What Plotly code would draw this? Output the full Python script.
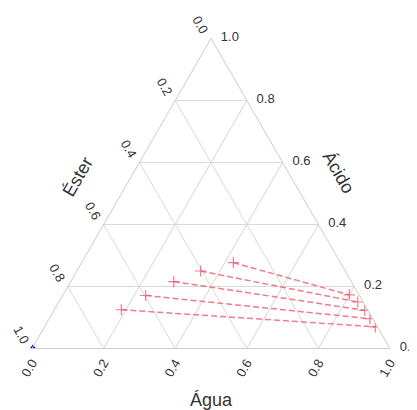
import plotly.graph_objects as go

# tie line ends (Ácido, Éster, Água) - ester-rich phase and water-rich phase
acido_ester_phase = [0.277, 0.250, 0.216, 0.171, 0.125]
ester_ester_phase = [0.299, 0.404, 0.496, 0.597, 0.688]
agua_ester_phase = [0.424, 0.346, 0.288, 0.232, 0.187]

acido_agua_phase = [0.173, 0.150, 0.123, 0.096, 0.070]
ester_agua_phase = [0.027, 0.015, 0.009, 0.008, 0.006]
agua_agua_phase = [0.800, 0.835, 0.868, 0.896, 0.924]

# pure ester point
acido_pure = [0.005]
ester_pure = [0.995]
agua_pure = [0.0]

tick_vals = [0.0, 0.2, 0.4, 0.6, 0.8, 1.0]
tick_text = ["1.0", "0.8", "0.6", "0.4", "0.2", "0.0"]

red = "rgba(235,80,100,0.75)"
grey = "#333333"
font = "Liberation Sans, Arial, sans-serif"

fig = go.Figure()
for i in range(len(acido_ester_phase)):
    fig.add_trace(go.Scatterternary(
        a=[acido_ester_phase[i], acido_agua_phase[i]],
        b=[ester_ester_phase[i], ester_agua_phase[i]],
        c=[agua_ester_phase[i], agua_agua_phase[i]],
        mode="lines+markers",
        line=dict(color=red, width=1.5, dash="6px,3px"),
        marker=dict(symbol="cross-thin", size=8, line=dict(color=red, width=1.2)),
        showlegend=False,
    ))

fig.add_trace(go.Scatterternary(
    a=acido_pure, b=ester_pure, c=agua_pure,
    mode="markers",
    marker=dict(symbol="triangle-up", size=5, color="blue"),
    showlegend=False,
    cliponaxis=False,
))

axis_common = dict(
    tickvals=tick_vals,
    showgrid=True,
    gridcolor="#d9d9d9",
    gridwidth=1,
    linecolor="#cccccc",
    linewidth=1,
    ticks="outside",
    ticklen=0,
    tickcolor="rgba(0,0,0,0)",
    tickfont=dict(family=font, size=13, color=grey),
    title=dict(text=""),
    min=0,
)

# small spaces push the labels off the edges (zero width space keeps them from being trimmed)
left_text = [t + "\u2008\u200b" for t in tick_text]
right_text = ["\u200b\u2007" + t for t in tick_text]

title_font = dict(family=font, size=18, color=grey)

fig.update_layout(
    width=417,
    height=410,
    margin=dict(l=24, r=35, t=30, b=69),
    paper_bgcolor="white",
    font=dict(family=font, color=grey),
    ternary=dict(
        bgcolor="white",
        sum=1,
        aaxis=dict(axis_common, tickangle=60, ticktext=left_text),
        baxis=dict(axis_common, tickangle=-60, ticktext=tick_text),
        caxis=dict(axis_common, tickangle=0, ticktext=right_text),
    ),
    annotations=[
        dict(text="Éster", x=0.128, y=0.553, xref="paper", yref="paper", showarrow=False,
             xanchor="center", yanchor="middle", textangle=-60, font=title_font),
        dict(text="Ácido", x=0.855, y=0.569, xref="paper", yref="paper", showarrow=False,
             xanchor="center", yanchor="middle", textangle=60, font=title_font),
        dict(text="Água", x=0.5, y=-0.165, xref="paper", yref="paper", showarrow=False,
             xanchor="center", yanchor="middle", font=title_font),
    ],
)

fig.write_html("out.html")
